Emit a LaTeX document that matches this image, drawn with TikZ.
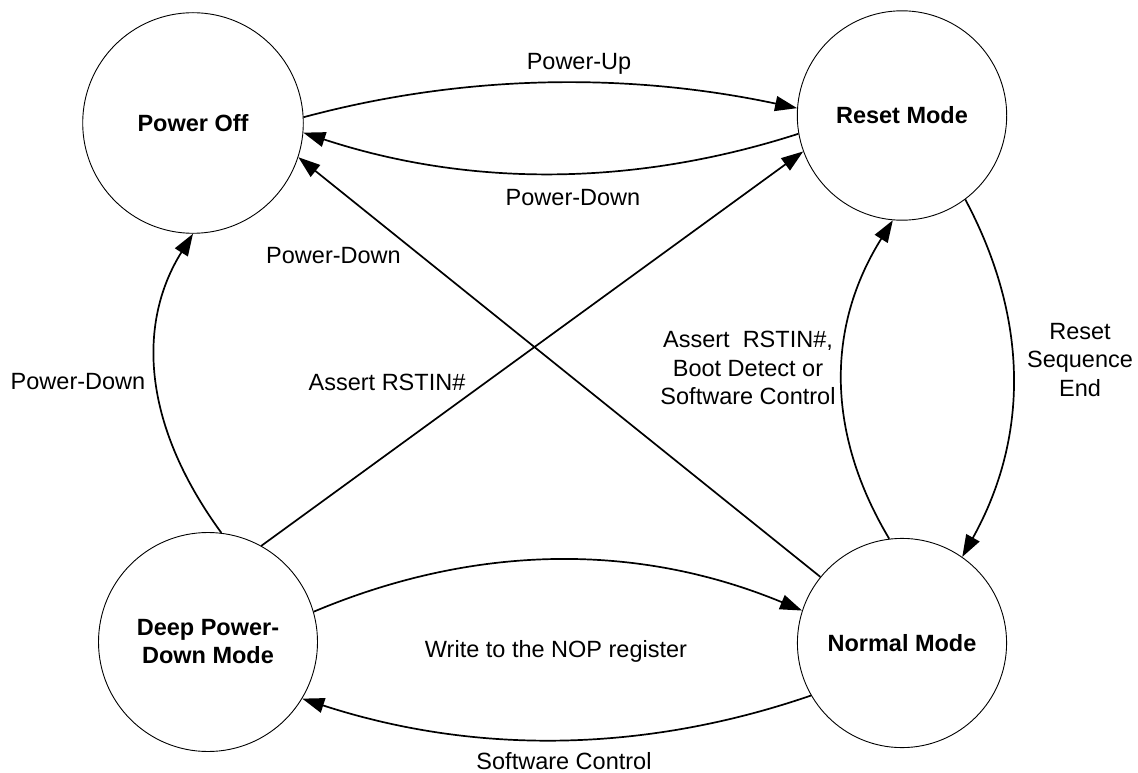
\documentclass[tikz,border=0pt]{standalone}
\usepackage{fontspec}
\setmainfont{Liberation Sans}
\usetikzlibrary{arrows.meta}
\begin{document}
\begin{tikzpicture}[x=1pt,y=-1pt,
  state/.style={circle,draw,line width=0.9pt,inner sep=0pt,align=center,
    font=\fontsize{23.5}{28}\selectfont\bfseries},
  lbl/.style={inner sep=0pt,align=center,font=\fontsize{23.5}{28.3}\selectfont},
  conn/.style={line width=1.7pt,-{Triangle[length=22pt,width=15pt]}}]
\useasboundingbox (0,0) rectangle (1138,773);
% states
\node[state,minimum size=220.6pt] (po) at (193,123) {Power Off};
\node[state,minimum size=209.4pt] (rm) at (902,115.5) {Reset Mode};
\node[state,minimum size=219pt] (dp) at (208,642) {Deep Power-\\Down Mode};
\node[state,minimum size=209.2pt] (nm) at (902,643) {Normal Mode};
% connectors
\draw[conn] (po.3.6) .. controls (468,73) and (632,73) .. (rm.176.2);
\draw[conn] (rm.190.6) .. controls (633,187) and (469,187) .. (po.-5.1);
\draw[conn] (nm.141.9) -- (po.-18.8);
\draw[conn] (dp.61.5) -- (rm.200.4);
\draw[conn] (dp.83) .. controls (139,420) and (139,320) .. (po.-90.5);
\draw[conn] (nm.97.7) .. controls (826,433) and (826,327) .. (rm.265.8);
\draw[conn] (rm.-53.8) .. controls (1029,319) and (1029,437) .. (nm.55.4);
\draw[conn] (dp.16.3) .. controls (477,543) and (639,543) .. (nm.162.6);
\draw[conn] (nm.210) .. controls (641,754) and (472,754) .. (dp.-31.9);
% labels
\node[lbl,anchor=base] (lpu) at (579,69.5) {Power-Up};
\node[lbl,anchor=base] (lpd1) at (573,205) {Power-Down};
\node[lbl,anchor=base] (lpd2) at (333.5,263.5) {Power-Down};
\node[lbl,anchor=base] (lpd3) at (78,389.3) {Power-Down};
\node[lbl,anchor=base] (lar) at (387,390) {Assert RSTIN\#};
\node[lbl] (labd) at (748,368) {Assert\ \ RSTIN\#,\\Boot Detect or\\Software Control};
\node[lbl] (lrse) at (1080,360) {Reset\\Sequence\\End};
\node[lbl,anchor=base] (lnop) at (556,657.3) {Write to the NOP register};
\node[lbl,anchor=base] (lsc) at (564,769) {Software Control};
\end{tikzpicture}
\end{document}
